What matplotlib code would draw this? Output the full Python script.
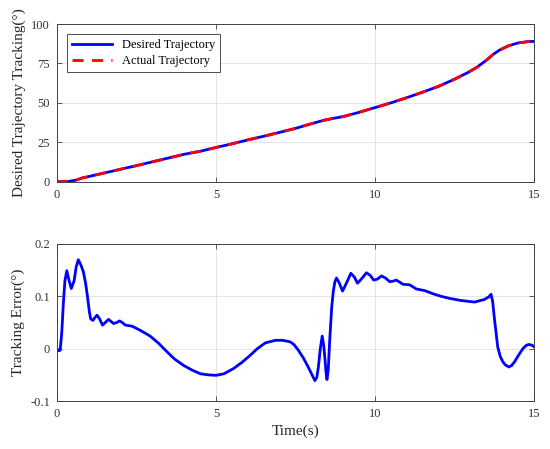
import matplotlib
matplotlib.use("Agg")
import matplotlib.pyplot as plt

# Desired / actual trajectory (deg)
traj_t = [0, 0.2, 0.4, 0.6, 0.8, 1.0, 1.5, 2.0, 2.5, 3.0, 3.5, 4.0, 4.5, 5.0,
          5.5, 6.0, 6.6, 7.0, 7.5, 8.0, 8.4, 8.7, 9.0, 9.5, 10.0, 10.5, 11.0,
          11.5, 12.0, 12.5, 12.9, 13.2, 13.5, 13.7, 13.9, 14.2, 14.5, 14.8, 15.0]
desired_deg = [0, 0.05, 0.3, 1.0, 2.4, 3.3, 5.6, 7.9, 10.2, 12.6, 15.0, 17.4,
               19.3, 21.7, 24.0, 26.5, 29.3, 31.3, 33.8, 36.8, 39.0, 40.2,
               41.3, 44.0, 47.0, 50.0, 53.3, 56.8, 60.5, 65.0, 69.0, 72.5,
               77.0, 80.5, 83.3, 86.2, 88.0, 88.8, 89.0]
actual_deg = [0, 0.05, 0.3, 1.0, 2.4, 3.3, 5.6, 7.9, 10.2, 12.6, 15.0, 17.4,
              19.3, 21.7, 24.0, 26.5, 29.3, 31.3, 33.8, 36.8, 39.0, 40.2,
              41.3, 44.0, 47.0, 50.0, 53.3, 56.8, 60.5, 65.0, 69.0, 72.5,
              77.0, 80.5, 83.3, 86.2, 88.0, 88.8, 89.0]

# Tracking error (deg)
err_t = [0, 0.05, 0.1, 0.15, 0.2, 0.25, 0.31, 0.38, 0.45, 0.54, 0.6, 0.67,
         0.75, 0.83, 0.9, 0.96, 1.02, 1.06, 1.13, 1.2, 1.26, 1.34, 1.43, 1.52,
         1.62, 1.7, 1.78, 1.88, 1.97, 2.05, 2.15, 2.36, 2.62, 2.93, 3.2, 3.46,
         3.7, 3.98, 4.25, 4.51, 4.75, 5.0, 5.25, 5.55, 5.8, 6.07, 6.3, 6.55,
         6.87, 7.1, 7.33, 7.45, 7.59, 7.75, 7.9, 8.02, 8.11, 8.17, 8.22, 8.28,
         8.34, 8.39, 8.43, 8.46, 8.49, 8.53, 8.58, 8.64, 8.69, 8.74, 8.79,
         8.88, 8.98, 9.1, 9.24, 9.35, 9.45, 9.6, 9.73, 9.85, 9.96, 10.08,
         10.2, 10.33, 10.46, 10.57, 10.67, 10.78, 10.88, 11.09, 11.3, 11.56,
         11.82, 12.08, 12.35, 12.71, 13.13, 13.44, 13.58, 13.65, 13.7, 13.76,
         13.86, 13.94, 14.02, 14.1, 14.21, 14.3, 14.39, 14.52, 14.65, 14.75,
         14.83, 14.92, 15.0]
err_deg = [0, -0.004, -0.003, 0.03, 0.086, 0.13, 0.149, 0.13, 0.115, 0.13,
           0.155, 0.17, 0.16, 0.147, 0.125, 0.099, 0.07, 0.057, 0.054, 0.06,
           0.064, 0.057, 0.045, 0.05, 0.056, 0.052, 0.048, 0.05, 0.053, 0.05,
           0.045, 0.043, 0.035, 0.024, 0.01, -0.006, -0.02, -0.032, -0.041,
           -0.048, -0.05, -0.051, -0.048, -0.038, -0.027, -0.013, 0.0, 0.011,
           0.016, 0.016, 0.013, 0.008, -0.003, -0.018, -0.035, -0.05, -0.061,
           -0.055, -0.035, 0.0, 0.024, 0.005, -0.022, -0.045, -0.059, -0.04,
           0.02, 0.08, 0.11, 0.128, 0.135, 0.125, 0.11, 0.125, 0.144, 0.137,
           0.125, 0.135, 0.145, 0.14, 0.131, 0.133, 0.139, 0.135, 0.128,
           0.129, 0.131, 0.127, 0.123, 0.122, 0.114, 0.111, 0.105, 0.1, 0.096,
           0.092, 0.089, 0.094, 0.099, 0.104, 0.09, 0.055, 0.003, -0.015,
           -0.025, -0.031, -0.035, -0.032, -0.025, -0.012, 0.0, 0.006, 0.008,
           0.007, 0.004]

BLUE = "#0000ff"
RED = "#ff0000"
AXC = "0.25"

plt.rcParams.update({
    "font.family": ["Liberation Serif", "DejaVu Serif"],
    "font.size": 9,
    "axes.linewidth": 0.7,
    "axes.edgecolor": AXC,
    "xtick.color": AXC,
    "ytick.color": AXC,
    "xtick.labelcolor": "0.2",
    "ytick.labelcolor": "0.2",
    "xtick.direction": "in",
    "ytick.direction": "in",
    "xtick.top": True,
    "ytick.right": True,
    "xtick.major.size": 3.5,
    "ytick.major.size": 3.5,
    "xtick.major.width": 0.6,
    "ytick.major.width": 0.6,
})

fig = plt.figure(figsize=(5.5, 4.49), dpi=100)
ax1 = fig.add_axes([0.1036, 0.5953, 0.8673, 0.3512])
ax2 = fig.add_axes([0.1036, 0.1069, 0.8673, 0.3497])

ax1.plot(traj_t, desired_deg, "-", color=BLUE, lw=2.0, label="Desired Trajectory")
ax1.plot(traj_t, actual_deg, "--", color=RED, lw=2.0, dashes=(4, 3),
         label="Actual Trajectory")
ax1.set_xlim(0, 15)
ax1.set_ylim(0, 100)
ax1.set_xticks([0, 5, 10, 15])
ax1.set_yticks([0, 25, 50, 75, 100])
ax1.set_ylabel("Desired Trajectory Tracking(°)", fontsize=11, color="0.15")
ax1.grid(True, color="0.88", lw=0.6)
ax1.set_axisbelow(True)
leg = ax1.legend(loc="upper left", fontsize=9, frameon=True, fancybox=False,
                 framealpha=1.0, edgecolor="0.3", handlelength=3.2,
                 borderaxespad=0.8, labelspacing=0.35)
leg.get_frame().set_linewidth(0.7)

ax2.plot(err_t, err_deg, "-", color=BLUE, lw=2.0)
ax2.set_xlim(0, 15)
ax2.set_ylim(-0.1, 0.2)
ax2.set_xticks([0, 5, 10, 15])
ax2.set_yticks([-0.1, 0, 0.1, 0.2])
ax2.set_yticklabels(["-0.1", "0", "0.1", "0.2"])
ax2.set_ylabel("Tracking Error(°)", fontsize=11, color="0.15")
ax2.set_xlabel("Time(s)", fontsize=11, color="0.15", labelpad=3)
ax2.grid(True, color="0.88", lw=0.6)
ax2.set_axisbelow(True)

for ax in (ax1, ax2):
    ax.tick_params(labelsize=9, pad=5)

fig.savefig("out.png", dpi=100)
